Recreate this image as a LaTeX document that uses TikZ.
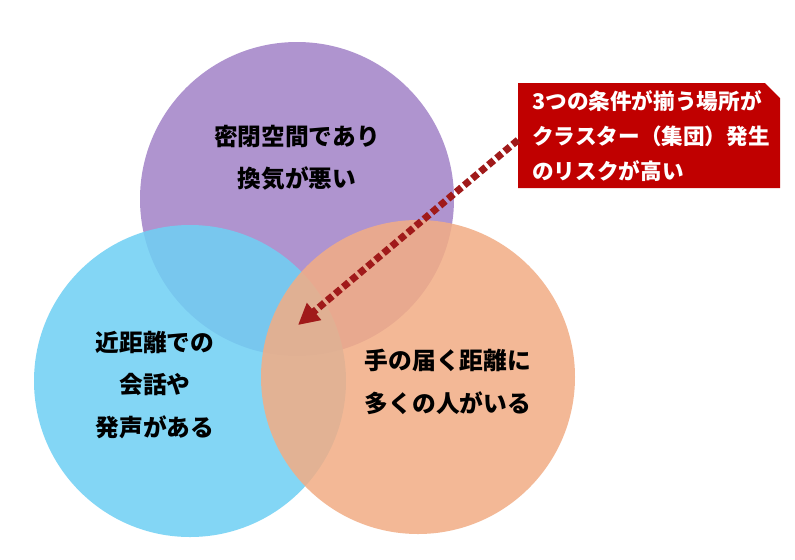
\documentclass[tikz,border=0pt]{standalone}
\usepackage{fontspec}
\setmainfont{Noto Sans CJK JP}
\usetikzlibrary{arrows.meta}
\definecolor{pu}{HTML}{A383C8}
\definecolor{bl}{HTML}{6FD0F4}
\definecolor{or}{HTML}{F2AD85}
\definecolor{rd}{HTML}{C00000}
\definecolor{dr}{HTML}{A01A1A}

\begin{document}
\begin{tikzpicture}[
      x = 0.02cm, y = -0.02cm, % pixel grid
      > = {Triangle[length=12pt, width=12pt]}, % arrow head style
      semithick, % line style
    ]

    \tikzstyle{every circ}=[
      fill opacity = 0.86,
      draw = none
    ]
    \tikzstyle{lab}=[
      align = center,
      font = \bfseries\fontsize{13.5pt}{24pt}\selectfont
    ]

    \useasboundingbox (0, 0) rectangle (795, 559);
    \fill[white] (0, 0) rectangle (795, 559);

    \fill[pu, every circ] (297, 199) circle (157);
    \fill[bl, every circ] (190, 381) circle (156);
    \fill[or, every circ] (418, 377) circle (157);

    \node[lab] (p) at (297, 158) {密閉空間であり\\換気が悪い};
    \node[lab] (b) at (155, 385) {近距離での\\会話や\\発声がある};
    \node[lab] (o) at (448, 382) {手の届く距離に\\多くの人がいる};

    \fill[rd] (518, 83) -- (765, 83) -- (780, 98) -- (780, 188) -- (518, 188) -- cycle;
    \node[align = left, text = white, anchor = west,
      font = \bfseries\fontsize{12.3pt}{20pt}\selectfont] (c) at (526, 136)
      {3つの条件が揃う場所が\\クラスター（集団）発生\\のリスクが高い};

    \coordinate (s) at (518, 140);
    \coordinate (t) at (298, 325);
    \draw[dr, line width = 4pt, dotted, ->] (s) -- (t);

  \end{tikzpicture}
\end{document}
